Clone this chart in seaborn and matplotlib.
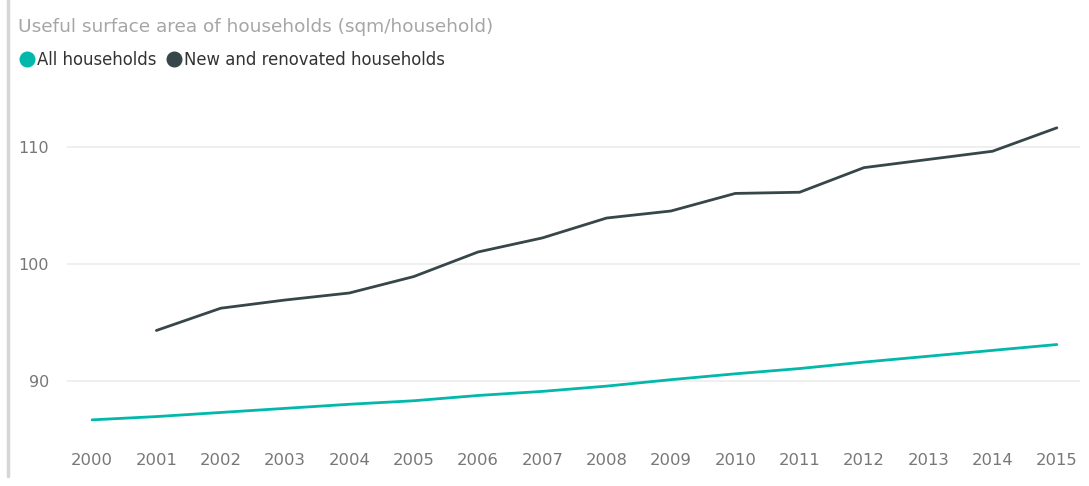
import numpy as np
import pandas as pd
import matplotlib
matplotlib.use("Agg")
import matplotlib.pyplot as plt
from matplotlib.lines import Line2D
import seaborn as sns

years = list(range(2000, 2016))
all_households = [86.67, 86.95, 87.3, 87.65, 88.0, 88.3, 88.75, 89.1, 89.55, 90.1,
                  90.6, 91.05, 91.6, 92.1, 92.6, 93.1]
new_renovated = [np.nan, 94.3, 96.2, 96.9, 97.5, 98.9, 101.0, 102.2, 103.9, 104.5,
                 106.0, 106.1, 108.2, 108.9, 109.6, 111.6]
series_names = ["All households", "New and renovated households"]
colors = ["#01B8AA", "#374649"]
yticks = [90, 100, 110]
title = "Useful surface area of households (sqm/household)"

df = pd.DataFrame({
    "year": years * 2,
    "value": all_households + new_renovated,
    "series": [series_names[0]] * len(years) + [series_names[1]] * len(years),
})

sns.set_theme(style="white")
plt.rcParams["font.family"] = ["DejaVu Sans"]

fig = plt.figure(figsize=(10.89, 4.86), dpi=100)
ax = fig.add_axes([67 / 1089, 46 / 486, (1080 - 67) / 1089, (440 - 88) / 486])

sns.lineplot(data=df, x="year", y="value", hue="series",
             palette=dict(zip(series_names, colors)), linewidth=2.0,
             ax=ax, legend=False)

ax.set_xlim(1999.61, 2015.36)
ax.set_ylim(84.95, 115.0)
ax.set_xticks(years)
ax.set_xticklabels([str(y) for y in years])
ax.set_yticks(yticks)
ax.set_xlabel("")
ax.set_ylabel("")
ax.grid(axis="y", color="#ECECEC", linewidth=1.2)
ax.grid(axis="x", visible=False)
for s in ax.spines.values():
    s.set_visible(False)
ax.tick_params(axis="both", colors="#777777", length=0)
ax.tick_params(axis="x", pad=9, labelsize=11.8)
ax.tick_params(axis="y", pad=13, labelsize=11.5)

fig.text(18 / 1089, 1 - 27 / 486, title, color="#A6A6A6", fontsize=13.3,
         va="center", ha="left")

handles = [Line2D([0], [0], marker="o", color="none", markerfacecolor=c,
                  markeredgecolor=c, markersize=10.5) for c in colors]
fig.legend(handles, series_names, loc="center left",
           bbox_to_anchor=(2 / 1089, 1 - 60 / 486), ncol=2, frameon=False,
           fontsize=11.9, handletextpad=0.0, columnspacing=0.5,
           handlelength=1.2, labelcolor="#333333")

fig.add_artist(Line2D([7.5 / 1089, 7.5 / 1089], [1 - 476 / 486, 1.0],
                      color="#D6D6D6", linewidth=2.5))

fig.savefig("out.png", dpi=100)
